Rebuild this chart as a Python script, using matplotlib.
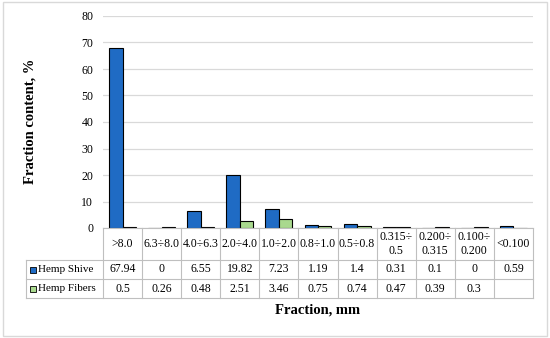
import matplotlib
matplotlib.use("Agg")
import matplotlib.pyplot as plt
import matplotlib.transforms as mtransforms
from matplotlib.patches import Rectangle
from matplotlib.lines import Line2D
import numpy as np

# data
fractions = [">8.0", "6.3÷8.0", "4.0÷6.3", "2.0÷4.0", "1.0÷2.0", "0.8÷1.0",
             "0.5÷0.8", "0.315÷\n0.5", "0.200÷\n0.315", "0.100÷\n0.200", "<0.100"]
hemp_shive = [67.94, 0, 6.55, 19.82, 7.23, 1.19, 1.4, 0.31, 0.1, 0, 0.59]
hemp_fibers = [0.5, 0.26, 0.48, 2.51, 3.46, 0.75, 0.74, 0.47, 0.39, 0.3, None]
series_names = ["Hemp Shive", "Hemp Fibers"]
series_colors = ["#1F6BC4", "#A9D98E"]

plt.rcParams['font.family'] = ['Liberation Serif', 'DejaVu Serif']

W, H = 550, 338
fig = plt.figure(figsize=(W / 100, H / 100), dpi=100)


def fy(py):
    return 1 - py / H


def fx(px):
    return px / W


# outer frame
fig.patches.append(Rectangle((fx(3), fy(336)), fx(544), 334 / H, transform=fig.transFigure,
                             fill=False, edgecolor="#D9D9D9", linewidth=1))

left, right, top, bottom = 103, 533, 16, 228
ax = fig.add_axes([fx(left), fy(bottom), fx(right - left), (bottom - top) / H])

n = len(fractions)
x = np.arange(n)
bw = 0.345
shive_vals = [v if v is not None else 0 for v in hemp_shive]
fiber_vals = [v if v is not None else 0 for v in hemp_fibers]
ax.bar(x - bw / 2, shive_vals, bw, color=series_colors[0], edgecolor="black", linewidth=0.8, zorder=3)
ax.bar(x + bw / 2, fiber_vals, bw, color=series_colors[1], edgecolor="black", linewidth=0.8, zorder=3)

ax.set_xlim(-0.5, n - 0.5)
ax.set_ylim(0, 80)
ax.set_yticks(range(0, 81, 10))
ax.grid(axis="y", color="#D9D9D9", linewidth=0.9, zorder=0)
ax.tick_params(axis="y", length=0, labelsize=8.5, pad=7)
ax.set_xticks([])
for s in ax.spines.values():
    s.set_visible(False)

fig.text(fx(30), fy(121), "Fraction content, %", rotation=90, fontsize=10.5,
         fontweight="bold", ha="center", va="center")
fig.text(fx(318), fy(310), "Fraction, mm", fontsize=10.5, fontweight="bold",
         ha="center", va="center")

# data table under the axis
tr = mtransforms.blended_transform_factory(ax.transData, fig.transFigure)
grid_c = "#BFBFBF"
rows_y = [228, 260, 279, 298]
legend_left = 26

fig.lines.append(Line2D([fx(left), fx(right)], [fy(rows_y[0])] * 2, transform=fig.transFigure,
                        color=grid_c, linewidth=0.8))
for ry in rows_y[1:]:
    fig.lines.append(Line2D([fx(legend_left), fx(right)], [fy(ry)] * 2, transform=fig.transFigure,
                            color=grid_c, linewidth=0.8))
for i in range(n + 1):
    fig.lines.append(Line2D([i - 0.5, i - 0.5], [fy(rows_y[0]), fy(rows_y[-1])], transform=tr,
                            color=grid_c, linewidth=0.8))
fig.lines.append(Line2D([fx(legend_left)] * 2, [fy(rows_y[1]), fy(rows_y[-1])],
                        transform=fig.transFigure, color=grid_c, linewidth=0.8))

fs = 8.5
for i, lab in enumerate(fractions):
    fig.text(i, fy((rows_y[0] + rows_y[1]) / 2), lab, transform=tr, ha="center", va="center",
             fontsize=fs, linespacing=1.25)

for r, (name, col, vals) in enumerate(zip(series_names, series_colors, [hemp_shive, hemp_fibers])):
    cy = (rows_y[r + 1] + rows_y[r + 2]) / 2
    fig.patches.append(Rectangle((fx(30), fy(cy + 3)), fx(6), 6 / H, transform=fig.transFigure,
                                 facecolor=col, edgecolor="black", linewidth=0.6))
    fig.text(fx(38), fy(cy), name, ha="left", va="center", fontsize=8)
    for i, v in enumerate(vals):
        if v is None:
            continue
        fig.text(i, fy(cy), f"{v:g}", transform=tr, ha="center", va="center", fontsize=fs)

fig.savefig("out.png", dpi=100)
